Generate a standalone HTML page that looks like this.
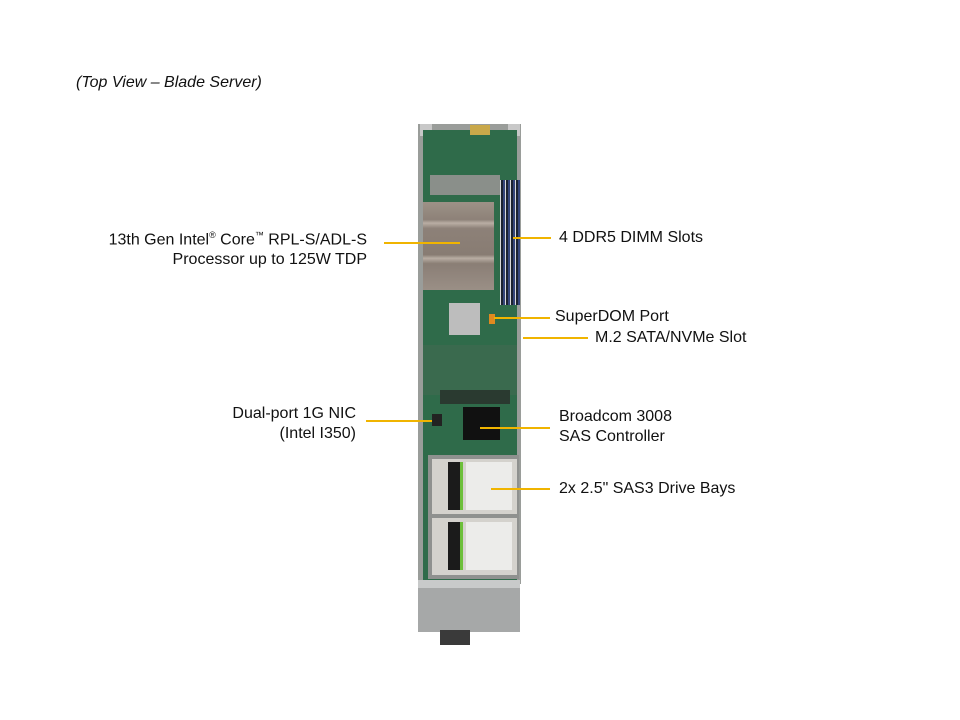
<!DOCTYPE html>
<html><head><style>
body{margin:0;width:960px;height:720px;background:#fff;position:relative;overflow:hidden;font-family:"Liberation Sans",sans-serif;}
.a{position:absolute}
.t{position:absolute;font-size:16px;color:#111;line-height:20px;white-space:nowrap}
.l{position:absolute;height:2px;background:#f0b400}
</style></head><body>
<div class="t" style="left:76px;top:73px;font-style:italic">(Top View – Blade Server)</div>

<!-- chassis -->
<div class="a" style="left:418px;top:124px;width:103px;height:460px;background:#9a9d9a"></div>
<div class="a" style="left:420px;top:124px;width:12px;height:12px;background:#c8c8c8"></div>
<div class="a" style="left:508px;top:124px;width:12px;height:12px;background:#c8c8c8"></div>
<div class="a" style="left:423px;top:130px;width:94px;height:450px;background:#2f6b4a"></div>
<div class="a" style="left:470px;top:125px;width:20px;height:10px;background:#c9a84a"></div>
<div class="a" style="left:430px;top:175px;width:70px;height:20px;background:#8a8f8a"></div>
<!-- heatsink -->
<div class="a" style="left:423px;top:202px;width:71px;height:88px;background:linear-gradient(#9d9287,#8d8178 20%,#b9aea4 24%,#8d8178 30%,#887c73 60%,#b8ada3 64%,#8a7e75 70%,#9a8f86)"></div>
<!-- DIMMs -->
<div class="a" style="left:500px;top:180px;width:20px;height:125px;background:repeating-linear-gradient(90deg,#d8d8d8 0 1px,#1c2230 1px 3px,#35457a 3px 5px)"></div>
<!-- chip -->
<div class="a" style="left:449px;top:303px;width:31px;height:32px;background:#bdbdbd"></div>
<div class="a" style="left:489px;top:314px;width:6px;height:10px;background:#e08a20"></div>
<div class="a" style="left:423px;top:345px;width:94px;height:50px;background:#3a6a4e"></div>
<div class="a" style="left:440px;top:390px;width:70px;height:14px;background:#2a3a30"></div>
<!-- SAS heatsink -->
<div class="a" style="left:463px;top:407px;width:37px;height:33px;background:#111"></div>
<div class="a" style="left:432px;top:414px;width:10px;height:12px;background:#222"></div>
<!-- drives -->
<div class="a" style="left:428px;top:455px;width:91px;height:124px;background:#8f918f"></div>
<div class="a" style="left:432px;top:459px;width:85px;height:55px;background:#d4d2cd"></div>
<div class="a" style="left:432px;top:518px;width:85px;height:57px;background:#d4d2cd"></div>
<div class="a" style="left:448px;top:462px;width:12px;height:48px;background:#1b1b1b;border-right:3px solid #6cbf3a"></div>
<div class="a" style="left:448px;top:522px;width:12px;height:48px;background:#1b1b1b;border-right:3px solid #6cbf3a"></div>
<div class="a" style="left:466px;top:462px;width:46px;height:48px;background:#ececea"></div>
<div class="a" style="left:466px;top:522px;width:46px;height:48px;background:#ececea"></div>
<!-- front bay -->
<div class="a" style="left:418px;top:580px;width:102px;height:52px;background:#a6a8a8"></div>
<div class="a" style="left:418px;top:580px;width:102px;height:8px;background:#c8caca"></div>
<div class="a" style="left:440px;top:630px;width:30px;height:15px;background:#3a3a3a"></div>

<!-- labels -->
<div class="t" style="left:80px;top:225px;width:287px;text-align:right">13th Gen Intel<sup style="font-size:9px">®</sup> Core<sup style="font-size:9px">™</sup> RPL-S/ADL-S<br>Processor up to 125W TDP</div>
<div class="l" style="left:384px;top:242px;width:76px"></div>
<div class="t" style="left:559px;top:228px">4 DDR5 DIMM Slots</div>
<div class="l" style="left:513px;top:237px;width:38px"></div>
<div class="t" style="left:555px;top:307px">SuperDOM Port</div>
<div class="l" style="left:494px;top:317px;width:56px"></div>
<div class="t" style="left:595px;top:328px">M.2 SATA/NVMe Slot</div>
<div class="l" style="left:523px;top:337px;width:65px"></div>
<div class="t" style="left:130px;top:404px;width:226px;text-align:right">Dual-port 1G NIC<br>(Intel I350)</div>
<div class="l" style="left:366px;top:420px;width:66px"></div>
<div class="t" style="left:559px;top:407px">Broadcom 3008<br>SAS Controller</div>
<div class="l" style="left:480px;top:427px;width:70px"></div>
<div class="t" style="left:559px;top:479px">2x 2.5" SAS3 Drive Bays</div>
<div class="l" style="left:491px;top:488px;width:59px"></div>
</body></html>
